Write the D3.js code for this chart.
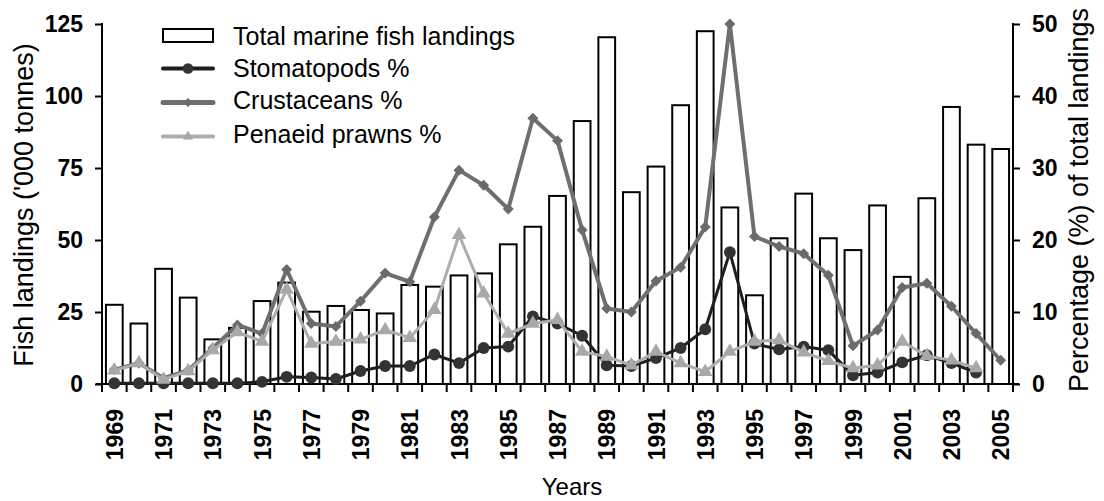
<!DOCTYPE html>
<html>
<head>
<meta charset="utf-8">
<script src="https://cdn.jsdelivr.net/npm/d3@7"></script>
<style>
  html, body { margin: 0; padding: 0; background: #fff; }
  svg { display: block; }
  text { font-family: "Liberation Sans", Arial, Helvetica, sans-serif; fill: #000; }
</style>
</head>
<body>
<svg id="chart" width="1104" height="501"></svg>
<script>
const years = d3.range(1969, 2006).map(String);
const totalLandings = [27.5,21,40,30,15.5,19.5,28.8,35.2,25.1,27.1,25.7,24.5,34.4,33.8,37.7,
  38.4,48.5,54.6,65.3,91.3,120.4,66.6,75.5,96.8,122.5,61.3,
  30.8,50.6,66.1,50.6,46.5,62.0,37.2,64.5,96.2,83.1,81.6];
const stomatopods = [0.1,0.1,0.1,0.1,0.1,0.1,0.3,1.0,0.9,0.7,1.8,2.5,2.5,4.1,2.9,
  5.0,5.2,9.4,8.4,6.7,2.6,2.5,3.6,5.0,7.6,18.3,
  5.6,4.8,5.2,4.7,1.2,1.6,3.0,4.0,2.9,1.6,null];
const crustaceans = [2.0,2.9,0.8,1.9,5.0,8.2,7.0,15.9,8.4,8.0,11.5,15.4,14.2,23.2,29.7,
  27.6,24.3,36.9,33.8,21.4,10.5,10.0,14.3,16.2,21.8,50.0,
  20.5,19.1,18.1,15.1,5.3,7.5,13.4,14.0,10.8,7.0,3.3];
const penaeid = [1.9,2.9,0.6,1.8,4.7,7.2,5.9,13.1,5.6,5.9,6.2,7.5,6.4,10.3,20.7,
  12.6,7.0,8.4,8.9,4.5,3.8,2.6,4.5,2.9,1.7,4.5,
  5.9,6.1,4.4,3.2,2.2,2.6,5.9,3.9,3.3,2.2,null];
const leftTicks = [0,25,50,75,100,125];
const rightTicks = [0,10,20,30,40,50];
const xLabels = years.filter((d,i) => i % 2 === 0);
const seriesNames = ["Total marine fish landings","Stomatopods %","Crustaceans %","Penaeid prawns %"];

const svg = d3.select("#chart");
const L = 102, R = 1013, T = 24, B = 384;

const x = d3.scaleBand().domain(years).range([L, R]).paddingInner(0.32).paddingOuter(0.16);
const step = x.step();
const cx = d => x(d) + x.bandwidth() / 2;
const yL = d3.scaleLinear().domain([0,125]).range([B, T]);
const yR = d3.scaleLinear().domain([0,50]).range([B, T]);

// bars
svg.append("g").selectAll("rect").data(years).join("rect")
  .attr("x", d => x(d))
  .attr("width", x.bandwidth())
  .attr("y", (d,i) => yL(totalLandings[i]))
  .attr("height", (d,i) => B - yL(totalLandings[i]))
  .attr("fill", "#fff").attr("stroke", "#000").attr("stroke-width", 2);

// left axis
const axL = svg.append("g").attr("transform", `translate(${L},0)`)
  .call(d3.axisLeft(yL).tickValues(leftTicks).tickSize(7).tickPadding(12));
axL.select(".domain").attr("stroke-width", 2).attr("d", `M-0,${T-1}V${B+1}`);
axL.selectAll(".tick line").attr("stroke-width", 2);
axL.selectAll(".tick text").attr("font-size", 23).attr("font-weight", "bold")
  .attr("font-family", "Liberation Sans, Arial, sans-serif");

// right axis
const axR = svg.append("g").attr("transform", `translate(${R},0)`)
  .call(d3.axisRight(yR).tickValues(rightTicks).tickSize(7).tickPadding(12));
axR.select(".domain").attr("stroke-width", 2).attr("d", `M0,${T-1}V${B+1}`);
axR.selectAll(".tick line").attr("stroke-width", 2);
axR.selectAll(".tick text").attr("font-size", 23).attr("font-weight", "bold")
  .attr("font-family", "Liberation Sans, Arial, sans-serif");

// x axis line and boundary ticks
const gx = svg.append("g");
gx.append("line").attr("x1", L - 6).attr("x2", R + 6).attr("y1", B).attr("y2", B)
  .attr("stroke", "#000").attr("stroke-width", 2);
gx.selectAll("line.bt").data(d3.range(years.length + 1)).join("line").attr("class","bt")
  .attr("x1", i => L + i * step).attr("x2", i => L + i * step)
  .attr("y1", B).attr("y2", B + 8)
  .attr("stroke", "#000").attr("stroke-width", 2);
gx.selectAll("text").data(xLabels).join("text")
  .attr("transform", d => `translate(${cx(d) + 0.5},409) rotate(-90)`)
  .attr("text-anchor", "end").attr("dy", "0.35em")
  .attr("font-size", 23).attr("font-weight", "bold")
  .text(d => d);

// lines
const styles = [
  {data: stomatopods, color: "#1e1e1e", mcolor: "#333", w: 3, shape: d3.symbolCircle, size: 110, lsize: 90, rot: 0},
  {data: crustaceans, color: "#6f6f6f", mcolor: "#6a6a6a", w: 4, shape: d3.symbolSquare, size: 60, lsize: 40, rot: 45},
  {data: penaeid, color: "#adadad", mcolor: "#a8a8a8", w: 3, shape: d3.symbolTriangle, size: 90, lsize: 45, rot: 0}
];
styles.forEach(s => {
  const pts = years.map((d,i) => [cx(d), s.data[i]]).filter(p => p[1] != null);
  const line = d3.line().x(p => p[0]).y(p => yR(p[1]));
  svg.append("path").attr("d", line(pts)).attr("fill", "none")
    .attr("stroke", s.color).attr("stroke-width", s.w).attr("stroke-linejoin", "round");
  svg.append("g").selectAll("path").data(pts).join("path")
    .attr("transform", p => `translate(${p[0]},${yR(p[1])}) rotate(${s.rot})`)
    .attr("d", d3.symbol(s.shape, s.size)).attr("fill", s.mcolor);
});

// legend
const lg = svg.append("g");
lg.append("rect").attr("x", 163).attr("y", 29).attr("width", 50).attr("height", 13)
  .attr("fill", "#fff").attr("stroke", "#000").attr("stroke-width", 2);
const lineY = [68.5, 102.5, 136.5];
const textY = [44.5, 77, 109, 143];
styles.forEach((s, i) => {
  const yy = lineY[i];
  lg.append("line").attr("x1", 163).attr("x2", 213).attr("y1", yy).attr("y2", yy)
    .attr("stroke", s.color).attr("stroke-width", s.w + 1).attr("stroke-linecap", "round");
  lg.append("path").attr("transform", `translate(188,${yy}) rotate(${s.rot})`)
    .attr("d", d3.symbol(s.shape, s.lsize)).attr("fill", s.mcolor);
});
lg.selectAll("text").data(seriesNames).join("text")
  .attr("x", 233).attr("y", (d,i) => textY[i])
  .attr("font-size", 25).text(d => d);

// axis titles
svg.append("text").attr("transform", "translate(24,205) rotate(-90)")
  .attr("text-anchor", "middle").attr("dy", "0.35em").attr("font-size", 27)
  .text("Fish landings ('000 tonnes)");
svg.append("text").attr("transform", "translate(1079,200) rotate(-90)")
  .attr("text-anchor", "middle").attr("dy", "0.35em").attr("font-size", 27)
  .text("Percentage (%) of total landings");
svg.append("text").attr("x", 572).attr("y", 495)
  .attr("text-anchor", "middle").attr("font-size", 24).text("Years");
</script>
</body>
</html>
